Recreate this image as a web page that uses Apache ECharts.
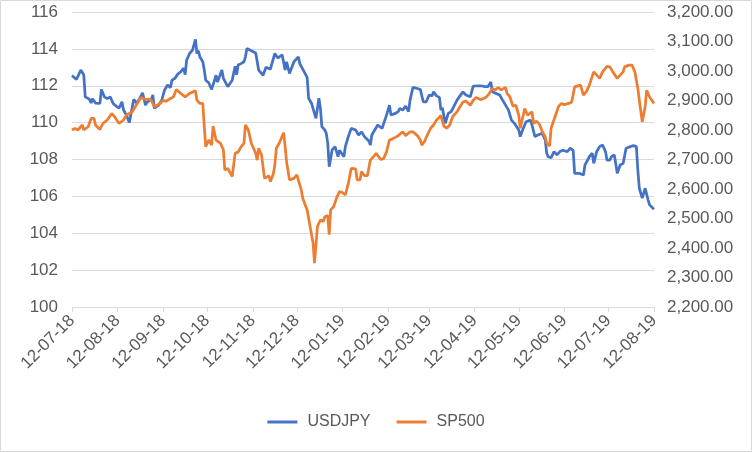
<!DOCTYPE html>
<html>
<head>
<meta charset="utf-8">
<script src="https://cdn.jsdelivr.net/npm/echarts@6/dist/echarts.min.js"></script>
<style>
html,body{margin:0;padding:0;background:#fff;}
#c{width:752px;height:452px;}
</style>
</head>
<body>
<div id="c"></div>
<script>
// ---- Data ----
const tickDates = ['2018-07-12','2018-08-12','2018-09-12','2018-10-12','2018-11-12','2018-12-12','2019-01-12','2019-02-12','2019-03-12','2019-04-12','2019-05-12','2019-06-12','2019-07-12','2019-08-12'];

const usdDates = ['2018-07-12','2018-07-15','2018-07-18','2018-07-20','2018-07-21','2018-07-24','2018-07-25','2018-07-26','2018-07-28','2018-07-31',
'2018-08-01','2018-08-03','2018-08-05','2018-08-07','2018-08-09','2018-08-11','2018-08-13','2018-08-15','2018-08-16','2018-08-18',
'2018-08-20','2018-08-23','2018-08-25','2018-08-27','2018-08-29','2018-08-31','2018-09-01','2018-09-04','2018-09-05','2018-09-06',
'2018-09-09','2018-09-11','2018-09-13','2018-09-15','2018-09-17','2018-09-18','2018-09-20','2018-09-22','2018-09-24','2018-09-26',
'2018-09-27','2018-09-28','2018-09-30','2018-10-02','2018-10-04','2018-10-05','2018-10-06','2018-10-07','2018-10-09','2018-10-10',
'2018-10-11','2018-10-13','2018-10-15','2018-10-17','2018-10-18','2018-10-19','2018-10-22','2018-10-23','2018-10-26','2018-10-29',
'2018-10-31','2018-11-01','2018-11-02','2018-11-04','2018-11-06','2018-11-07','2018-11-08','2018-11-11','2018-11-14','2018-11-15',
'2018-11-16','2018-11-19','2018-11-21','2018-11-24','2018-11-27','2018-11-29','2018-12-02','2018-12-04','2018-12-05','2018-12-07',
'2018-12-10','2018-12-13','2018-12-14','2018-12-16','2018-12-19','2018-12-20','2018-12-22','2018-12-24','2018-12-25','2018-12-27',
'2018-12-28','2018-12-29','2018-12-31','2019-01-01','2019-01-02','2019-01-03','2019-01-05','2019-01-07','2019-01-09','2019-01-10',
'2019-01-13','2019-01-14','2019-01-16','2019-01-18','2019-01-21','2019-01-23','2019-01-25','2019-01-27','2019-01-30','2019-01-31',
'2019-02-01','2019-02-03','2019-02-05','2019-02-08','2019-02-11','2019-02-13','2019-02-14','2019-02-17','2019-02-19','2019-02-20',
'2019-02-22','2019-02-24','2019-02-26','2019-02-27','2019-03-01','2019-03-04','2019-03-06','2019-03-08','2019-03-10','2019-03-12',
'2019-03-14','2019-03-15','2019-03-17','2019-03-19','2019-03-20','2019-03-21','2019-03-23','2019-03-25','2019-03-27','2019-03-31',
'2019-04-02','2019-04-04','2019-04-06','2019-04-09','2019-04-11','2019-04-12','2019-04-16','2019-04-19','2019-04-21','2019-04-23',
'2019-04-24','2019-04-26','2019-04-29','2019-05-01','2019-05-03','2019-05-05','2019-05-07','2019-05-09','2019-05-12','2019-05-13',
'2019-05-15','2019-05-17','2019-05-20','2019-05-21','2019-05-23','2019-05-25','2019-05-28','2019-05-30','2019-05-31','2019-06-01',
'2019-06-03','2019-06-05','2019-06-07','2019-06-09','2019-06-11','2019-06-14','2019-06-16','2019-06-18','2019-06-19','2019-06-22',
'2019-06-25','2019-06-26','2019-06-27','2019-06-29','2019-07-01','2019-07-02','2019-07-04','2019-07-06','2019-07-08','2019-07-10',
'2019-07-11','2019-07-13','2019-07-14','2019-07-16','2019-07-18','2019-07-20','2019-07-22','2019-07-24','2019-07-27','2019-07-29',
'2019-07-31','2019-08-01','2019-08-02','2019-08-04','2019-08-06','2019-08-08','2019-08-09','2019-08-12'];
const usdValues = [112.56,112.34,112.85,112.6,111.4,111.26,111.06,111.3,111.06,111.04,
111.8,111.4,111.3,111.4,111.04,110.9,110.79,111.13,110.7,110.41,
110.0,111.26,111.06,111.3,111.62,110.95,111.1,111.26,111.5,110.78,
110.95,111.2,111.77,112.04,111.9,112.3,112.4,112.63,112.76,112.95,
112.6,113.39,113.75,113.93,114.51,113.75,113.9,113.57,113.3,112.85,
112.3,112.16,111.8,112.3,112.57,112.2,112.85,112.4,111.95,112.3,
113.06,112.6,113.12,113.2,113.3,113.57,114.02,113.9,113.78,113.8,
112.85,112.57,113.0,112.9,113.75,113.5,113.68,112.85,113.3,112.67,
113.3,113.57,113.2,112.9,112.45,111.32,111.04,110.5,110.23,111.32,
110.8,109.78,109.6,109.42,108.9,107.61,108.52,108.7,108.15,108.5,
108.15,108.7,109.24,109.69,109.6,109.33,109.5,109.24,109.0,108.79,
109.33,109.6,109.87,109.69,110.41,110.95,110.41,110.5,110.6,110.77,
110.68,110.9,110.6,111.22,111.91,111.85,111.8,111.13,111.13,111.5,
111.45,111.67,111.45,111.37,110.68,110.8,109.96,110.5,110.6,111.22,
111.45,111.67,111.5,111.4,111.98,112.04,112.0,111.95,111.95,112.2,
111.67,111.6,111.5,111.22,110.95,110.68,110.14,109.96,109.6,109.24,
109.69,110.05,110.14,109.87,109.24,109.33,109.42,109.06,108.34,108.15,
108.1,108.43,108.25,108.43,108.5,108.43,108.61,108.5,107.25,107.25,
107.16,107.7,107.79,108.15,108.34,107.79,108.43,108.7,108.79,108.43,
107.97,107.97,108.15,108.25,107.25,107.7,107.79,108.61,108.7,108.75,
108.7,107.43,106.44,105.9,106.44,105.8,105.54,105.3];

const spxDates = ['2018-07-12','2018-07-14','2018-07-16','2018-07-19','2018-07-20','2018-07-23','2018-07-25','2018-07-27','2018-07-28','2018-07-31',
'2018-08-02','2018-08-05','2018-08-08','2018-08-10','2018-08-13','2018-08-16','2018-08-18','2018-08-22','2018-08-24','2018-08-26',
'2018-08-28','2018-08-31','2018-09-02','2018-09-04','2018-09-06','2018-09-10','2018-09-12','2018-09-14','2018-09-17','2018-09-19',
'2018-09-21','2018-09-24','2018-09-27','2018-09-30','2018-10-04','2018-10-05','2018-10-07','2018-10-09','2018-10-10','2018-10-11',
'2018-10-13','2018-10-15','2018-10-16','2018-10-18','2018-10-21','2018-10-23','2018-10-24','2018-10-26','2018-10-29','2018-10-31',
'2018-11-02','2018-11-04','2018-11-06','2018-11-07','2018-11-09','2018-11-11','2018-11-14','2018-11-15','2018-11-16','2018-11-18',
'2018-11-19','2018-11-20','2018-11-23','2018-11-24','2018-11-26','2018-11-27','2018-11-28','2018-11-30','2018-12-03','2018-12-04',
'2018-12-05','2018-12-07','2018-12-10','2018-12-12','2018-12-13','2018-12-15','2018-12-16','2018-12-19','2018-12-21','2018-12-23',
'2018-12-24','2018-12-25','2018-12-26','2018-12-28','2018-12-30','2018-12-31','2019-01-02','2019-01-03','2019-01-04','2019-01-06',
'2019-01-08','2019-01-10','2019-01-12','2019-01-14','2019-01-16','2019-01-18','2019-01-21','2019-01-22','2019-01-24','2019-01-25',
'2019-01-27','2019-01-29','2019-01-31','2019-02-02','2019-02-04','2019-02-07','2019-02-09','2019-02-11','2019-02-13','2019-02-15',
'2019-02-17','2019-02-19','2019-02-22','2019-02-24','2019-02-27','2019-03-01','2019-03-04','2019-03-06','2019-03-07','2019-03-09',
'2019-03-10','2019-03-13','2019-03-15','2019-03-17','2019-03-19','2019-03-20','2019-03-22','2019-03-24','2019-03-26','2019-03-28',
'2019-03-31','2019-04-02','2019-04-04','2019-04-06','2019-04-09','2019-04-11','2019-04-13','2019-04-16','2019-04-18','2019-04-20',
'2019-04-22','2019-04-24','2019-04-26','2019-04-28','2019-04-30','2019-05-03','2019-05-04','2019-05-06','2019-05-08','2019-05-10',
'2019-05-12','2019-05-13','2019-05-15','2019-05-16','2019-05-18','2019-05-21','2019-05-22','2019-05-24','2019-05-26','2019-05-28',
'2019-05-30','2019-05-31','2019-06-02','2019-06-03','2019-06-06','2019-06-08','2019-06-10','2019-06-12','2019-06-15','2019-06-17',
'2019-06-19','2019-06-20','2019-06-23','2019-06-25','2019-06-27','2019-06-29','2019-07-02','2019-07-04','2019-07-06','2019-07-08',
'2019-07-11','2019-07-13','2019-07-15','2019-07-18','2019-07-20','2019-07-22','2019-07-23','2019-07-26','2019-07-28','2019-07-30',
'2019-08-01','2019-08-02','2019-08-04','2019-08-06','2019-08-07','2019-08-09','2019-08-12'];
const spxValues = [2800,2805,2800,2817,2800,2811,2839,2839,2817,2802,
2822,2834,2856,2845,2822,2834,2850,2862,2879,2895,
2910,2903,2905,2901,2879,2890,2901,2897,2907,2912,
2937,2924,2912,2924,2933,2901,2890,2890,2811,2743,
2766,2749,2813,2766,2755,2733,2664,2670,2642,2721,
2725,2743,2755,2817,2800,2755,2721,2698,2738,2715,
2675,2636,2645,2625,2652,2681,2738,2755,2791,2745,
2692,2631,2636,2648,2652,2597,2569,2529,2473,2417,
2349,2349,2473,2495,2490,2506,2510,2445,2529,2540,
2569,2591,2588,2580,2619,2670,2668,2631,2631,2659,
2645,2645,2698,2709,2721,2700,2703,2726,2766,2770,
2775,2781,2794,2781,2794,2794,2781,2766,2749,2762,
2775,2806,2817,2834,2843,2850,2813,2806,2817,2845,
2862,2879,2895,2898,2884,2901,2910,2903,2907,2912,
2924,2941,2936,2944,2936,2944,2924,2912,2881,2884,
2850,2806,2850,2873,2850,2862,2822,2830,2820,2794,
2777,2755,2746,2806,2850,2879,2890,2886,2890,2895,
2946,2952,2952,2918,2930,2952,2997,2986,2975,2997,
3016,3014,2997,2975,2986,2997,3014,3020,3020,2997,
2941,2901,2828,2879,2935,2912,2890];

const leftTicks = {min: 100, max: 116, step: 2};
const rightTicks = {min: 2200, max: 3200, step: 100};

// ---- Chart ----
const ts = s => +echarts.number.parseDate(s);
const pair = (ds, vs) => ds.map((d, i) => [ts(d), vs[i]]);
const txt = '#595959';
const font = 'Liberation Sans';
const fmtDate = v => {
  const d = new Date(v);
  const p = n => String(n).padStart(2, '0');
  return p(d.getDate()) + '-' + p(d.getMonth() + 1) + '-' + String(d.getFullYear()).slice(2);
};
const tickTs = tickDates.map(ts);
const chart = echarts.init(document.getElementById('c'), null, {renderer: 'canvas'});
chart.setOption({
  animation: false,
  backgroundColor: '#fff',
  textStyle: {fontFamily: font},
  graphic: [{type: 'rect', shape: {x: 0.5, y: 0.5, width: 751, height: 451}, style: {fill: 'none', stroke: '#d9d9d9', lineWidth: 1}, silent: true}],
  grid: {left: 72, right: 98, top: 12, bottom: 145},
  legend: {
    bottom: 17, left: 'center', itemWidth: 30, itemHeight: 3, itemGap: 26, icon: 'rect',
    textStyle: {color: txt, fontSize: 16, fontFamily: font, padding: [0, 0, 0, 5]},
    data: ['USDJPY', 'SP500']
  },
  xAxis: {
    type: 'value',
    min: tickTs[0], max: tickTs[tickTs.length - 1],
    splitLine: {show: false},
    axisLine: {lineStyle: {color: '#d9d9d9', width: 1}},
    axisTick: {show: true, length: 5, lineStyle: {color: '#d9d9d9'}, customValues: tickTs},
    axisLabel: {color: txt, fontSize: 17, rotate: 45, margin: 11, customValues: tickTs, formatter: fmtDate, hideOverlap: false, showMinLabel: true, showMaxLabel: true}
  },
  yAxis: [{
    type: 'value', min: leftTicks.min, max: leftTicks.max, interval: leftTicks.step, position: 'left',
    axisLine: {show: false}, axisTick: {show: false},
    axisLabel: {color: txt, fontSize: 17, margin: 14},
    splitLine: {lineStyle: {color: '#d9d9d9', width: 1}}
  }, {
    type: 'value', min: rightTicks.min, max: rightTicks.max, interval: rightTicks.step, position: 'right',
    axisLine: {show: false}, axisTick: {show: false},
    axisLabel: {color: txt, fontSize: 17, margin: 13, formatter: v => v.toLocaleString('en-US', {minimumFractionDigits: 2, maximumFractionDigits: 2})},
    splitLine: {show: false}
  }],
  series: [{
    name: 'USDJPY', type: 'line', yAxisIndex: 0, showSymbol: false, symbol: 'none',
    lineStyle: {color: '#4472C4', width: 2.75}, itemStyle: {color: '#4472C4'},
    data: pair(usdDates, usdValues)
  }, {
    name: 'SP500', type: 'line', yAxisIndex: 1, showSymbol: false, symbol: 'none',
    lineStyle: {color: '#ED7D31', width: 2.75}, itemStyle: {color: '#ED7D31'},
    data: pair(spxDates, spxValues)
  }]
});
</script>
</body>
</html>
